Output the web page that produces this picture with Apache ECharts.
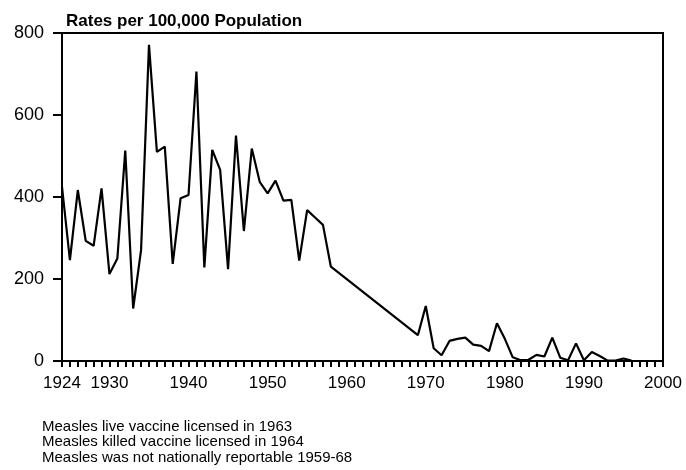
<!DOCTYPE html>
<html>
<head>
<meta charset="utf-8">
<script src="https://cdn.jsdelivr.net/npm/echarts@6/dist/echarts.min.js"></script>
<style>
html,body{margin:0;padding:0;background:#fff;}
#chart{width:686px;height:470px;}
</style>
</head>
<body>
<div id="chart"></div>
<script>
// Data
const years = [1924,1925,1926,1927,1928,1929,1930,1931,1932,1933,1934,1935,1936,1937,1938,1939,
  1940,1941,1942,1943,1944,1945,1946,1947,1948,1949,1950,1951,1952,1953,1954,1955,1956,1957,1958,
  1969,1970,1971,1972,1973,1974,1975,1976,1977,1978,1979,1980,1981,1982,1983,1984,1985,1986,1987,
  1988,1989,1990,1991,1992,1993,1994,1995,1996];
const rates = [425,246,417,293,281,421,212,250,513,128,271,771,510,523,237,397,
  405,706,228,515,466,224,550,317,518,437,409,440,391,393,245,368,350,332,230,
  63,134,31,14,49,54,57,40,37,24,92,54,9,2,3,15,11,57,8,
  2,43,2,22,12,1,1,6,1];
const xTickLabels = [1924,1930,1940,1950,1960,1970,1980,1990,2000];
const yTickLabels = [0,200,400,600,800];
const titleText = 'Rates per 100,000 Population';
const footnotes = [
  'Measles live vaccine licensed in 1963',
  'Measles killed vaccine licensed in 1964',
  'Measles was not nationally reportable 1959-68'
];

const chart = echarts.init(document.getElementById('chart'), null, {renderer:'canvas'});
const font = 'Liberation Sans, Arial, sans-serif';
const seriesData = years.map((y,i)=>[y, rates[i]]);

chart.setOption({
  animation:false,
  backgroundColor:'#fff',
  title:{
    text:titleText, left:61, top:8,
    textStyle:{fontFamily:font, fontWeight:'bold', fontSize:17, color:'#000'}
  },
  graphic: footnotes.map((t,i)=>({
    type:'text', left:42, top:419 + i*15.5,
    style:{text:t, font:'15px ' + font, fill:'#000'}
  })),
  grid:{left:62, right:23, top:33, bottom:109, show:true, borderColor:'#000', borderWidth:2, backgroundColor:'transparent'},
  xAxis:{
    type:'value', min:1924, max:2000, interval:1,
    axisLine:{lineStyle:{color:'#000', width:2}},
    axisTick:{show:true, inside:false, length:6, lineStyle:{color:'#000', width:2}},
    splitLine:{show:false},
    axisLabel:{
      margin:14, fontFamily:font, fontSize:17, color:'#000', showMinLabel:true, showMaxLabel:true,
      formatter:(v)=> xTickLabels.indexOf(v) >= 0 ? String(v) : ''
    }
  },
  yAxis:{
    type:'value', min:0, max:800, interval:200,
    axisLine:{show:true, lineStyle:{color:'#000', width:2}},
    axisTick:{show:true, inside:false, length:9, lineStyle:{color:'#000', width:2}},
    splitLine:{show:false},
    axisLabel:{
      margin:18, fontFamily:font, fontSize:18, color:'#000',
      formatter:(v)=> yTickLabels.indexOf(v) >= 0 ? String(v) : ''
    }
  },
  series:[{
    type:'line', data:seriesData, showSymbol:false, symbol:'none',
    lineStyle:{color:'#000', width:2.2}, z:3
  }]
});
</script>
</body>
</html>
